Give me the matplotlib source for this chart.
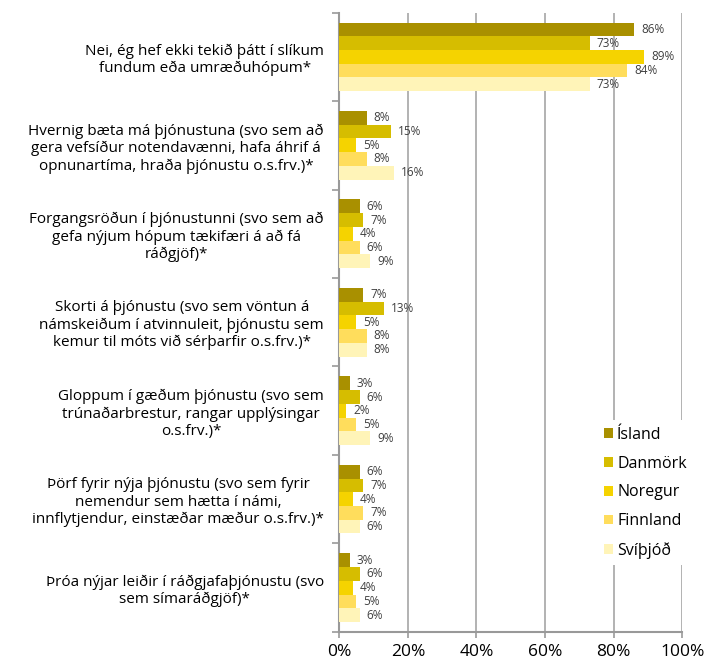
import numpy as np
import matplotlib.pyplot as plt
from matplotlib.ticker import FixedLocator

categories = [
    "Nei, ég hef ekki tekið þátt í slíkum\nfundum eða umræðuhópum*",
    "Hvernig bæta má þjónustuna (svo sem að\ngera vefsíður notendavænni, hafa áhrif á\nopnunartíma, hraða þjónustu o.s.frv.)*",
    "Forgangsröðun í þjónustunni (svo sem að\ngefa nýjum hópum tækifæri á að fá\nráðgjöf)*",
    "Skorti á þjónustu (svo sem vöntun á\nnámskeiðum í atvinnuleit, þjónustu sem\nkemur til móts við sérþarfir o.s.frv.)*",
    "Gloppum í gæðum þjónustu (svo sem\ntrúnaðarbrestur, rangar upplýsingar\no.s.frv.)*",
    "Þörf fyrir nýja þjónustu (svo sem fyrir\nnemendur sem hætta í námi,\ninnflytjendur, einstæðar mæður o.s.frv.)*",
    "Þróa nýjar leiðir í ráðgjafaþjónustu (svo\nsem símaráðgjöf)*",
]

countries = ["Ísland", "Danmörk", "Noregur", "Finnland", "Svíþjóð"]

island = [86, 8, 6, 7, 3, 6, 3]
danmork = [73, 15, 7, 13, 6, 7, 6]
noregur = [89, 5, 4, 5, 2, 4, 4]
finnland = [84, 8, 6, 8, 5, 7, 5]
svithjod = [73, 16, 9, 8, 9, 6, 6]

series = [island, danmork, noregur, finnland, svithjod]
colors = ["#A99000", "#D6BD00", "#F5D300", "#FFDD5C", "#FFF4B8"]

plt.rcParams['font.family'] = ['Open Sans', 'DejaVu Sans']

fig = plt.figure(figsize=(7.04, 6.61), dpi=100)
ax = fig.add_axes([0.482, 0.044, 0.487, 0.937])

n = len(categories)
y = np.arange(n)
h = 0.155
for i, (vals, c) in enumerate(zip(series, colors)):
    pos = y - 2 * h + i * h
    ax.barh(pos, vals, height=h, color=c, label=countries[i], zorder=3)
    for p, v in zip(pos, vals):
        ax.text(v + 2.0, p, f"{v}%", va="center", ha="left", fontsize=8.5,
                color="#404040", zorder=4)

ax.set_xlim(0, 100)
ax.set_ylim(n - 0.5, -0.5)
ax.set_xticks(np.arange(0, 101, 20))
ax.set_xticklabels([f"{t}%" for t in range(0, 101, 20)], fontsize=12.5)
ax.set_yticks(y)
ax.set_yticklabels(categories, fontsize=11, multialignment="center")
ax.yaxis.set_minor_locator(FixedLocator(np.arange(-0.5, n, 1)))
ax.tick_params(axis="y", which="major", length=0, pad=11)
ax.tick_params(axis="y", which="minor", length=5, color="#999999", width=1.2)
ax.tick_params(axis="x", length=4, color="#999999", width=1.2, pad=5)
ax.grid(axis="x", color="#a6a6a6", linewidth=1.2, zorder=0)

for s in ["top", "right"]:
    ax.spines[s].set_visible(False)
for s in ["left", "bottom"]:
    ax.spines[s].set_color("#999999")
    ax.spines[s].set_linewidth(1.5)

leg = ax.legend(loc="lower right", bbox_to_anchor=(1.055, 0.095), frameon=True,
                fontsize=11.5, handlelength=0.55, handleheight=0.55,
                handletextpad=0.25, labelspacing=0.8, borderpad=0.4)
leg.get_frame().set_edgecolor("none")
leg.get_frame().set_facecolor("white")
leg.get_frame().set_alpha(1)

fig.savefig("out.png", dpi=100)
